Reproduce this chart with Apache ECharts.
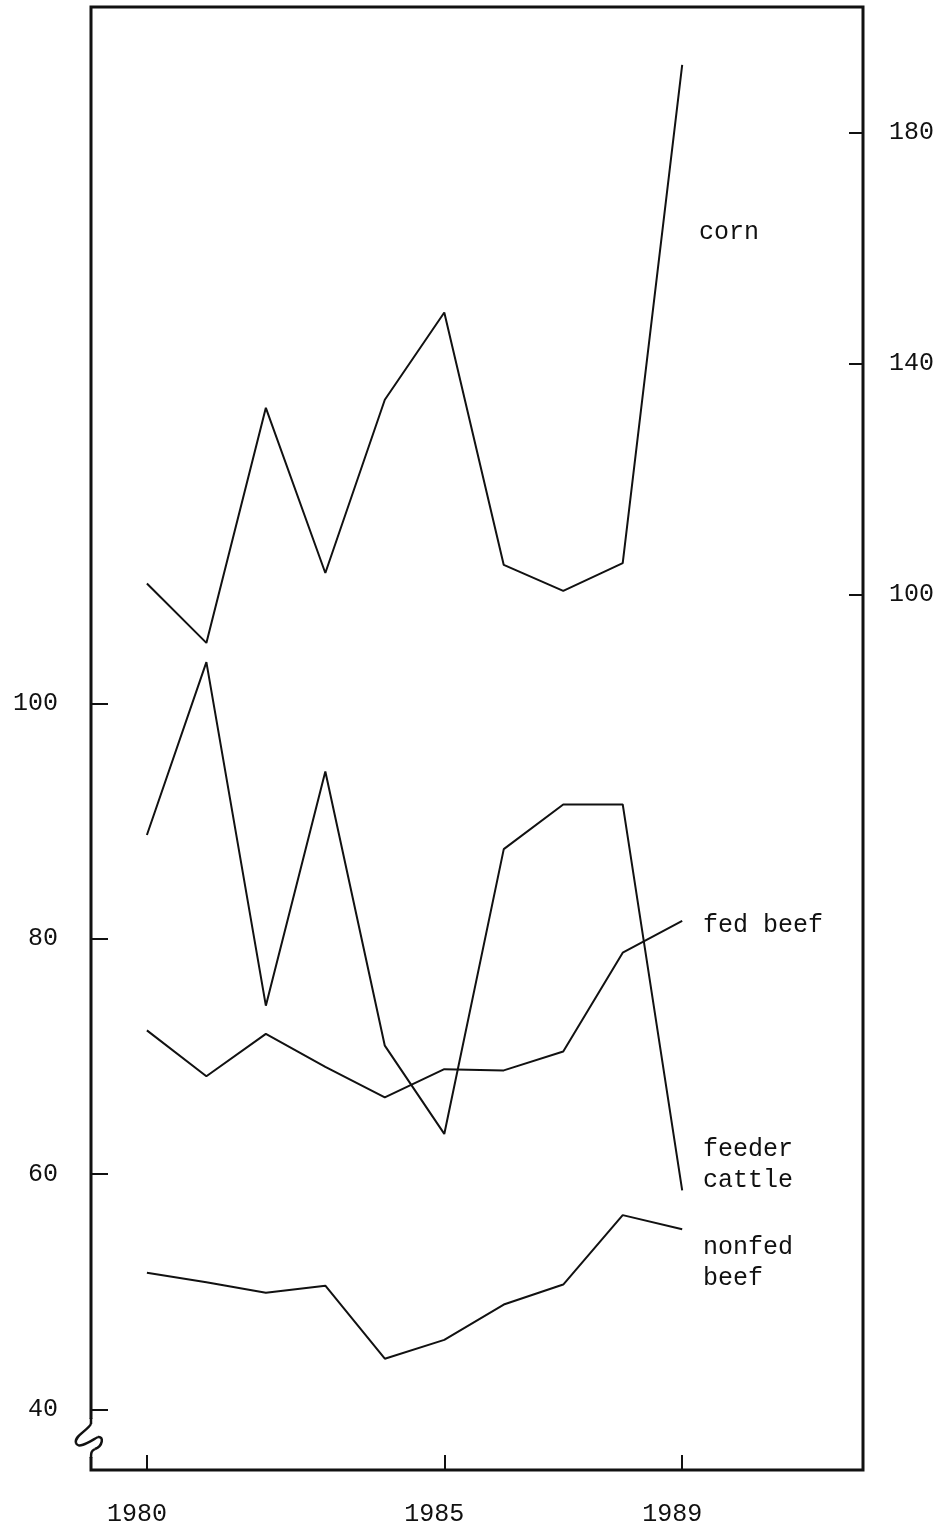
<!DOCTYPE html>
<html>
<head>
<meta charset="utf-8">
<script src="https://cdn.jsdelivr.net/npm/echarts@6/dist/echarts.min.js"></script>
<style>
html,body{margin:0;padding:0;background:#fff;}
#chart{width:948px;height:1534px;}
</style>
</head>
<body>
<div id="chart"></div>
<script>
const years = [1980, 1981, 1982, 1983, 1984, 1985, 1986, 1987, 1988, 1989];
const corn = [101.9, 91.6, 132.3, 103.7, 133.7, 148.8, 105.1, 100.6, 105.4, 191.7];
const feederCattle = [88.8, 103.5, 74.3, 94.2, 70.9, 63.4, 87.6, 91.4, 91.4, 58.6];
const fedBeef = [72.2, 68.3, 71.9, 69.1, 66.5, 68.9, 68.8, 70.4, 78.8, 81.5];
const nonfedBeef = [51.6, 50.8, 49.9, 50.5, 44.3, 45.9, 48.9, 50.6, 56.5, 55.3];
const xTicks = [1980, 1985, 1989];
const leftTicks = [40, 60, 80, 100];
const rightTicks = [100, 140, 180];
const seriesLabels = [
  {text: 'corn', x: 699, y: 232},
  {text: 'fed beef', x: 703, y: 925},
  {text: 'feeder\ncattle', x: 703, y: 1165},
  {text: 'nonfed\nbeef', x: 703, y: 1263}
];

const FONT = 'Liberation Mono';
const chart = echarts.init(document.getElementById('chart'), null, {renderer: 'canvas'});
const pair = (arr) => years.map((y, i) => [y, arr[i]]);
const lineSeries = (name, arr, yIdx) => ({
  name, type: 'line', yAxisIndex: yIdx, data: pair(arr),
  showSymbol: false, symbol: 'none', animation: false, silent: true,
  lineStyle: {color: '#111', width: 2}
});

const breakStyle = {fill: 'none', stroke: '#111', lineWidth: 2.5};
const breakCurves = [
  {x1: 91, y1: 1418, x2: 91, y2: 1424, cpx1: 91, cpy1: 1420, cpx2: 91, cpy2: 1422},
  {x1: 91, y1: 1424, x2: 76, y2: 1443, cpx1: 87, cpy1: 1431, cpx2: 74, cpy2: 1436},
  {x1: 76, y1: 1443, x2: 98, y2: 1437, cpx1: 78, cpy1: 1450, cpx2: 92, cpy2: 1440},
  {x1: 98, y1: 1437, x2: 95, y2: 1449, cpx1: 104, cpy1: 1436, cpx2: 103, cpy2: 1446},
  {x1: 95, y1: 1449, x2: 91, y2: 1458, cpx1: 91, cpy1: 1451, cpx2: 91, cpy2: 1453}
];

const option = {
  animation: false,
  backgroundColor: '#fff',
  grid: {left: 91, right: 85, top: 7, bottom: 64, show: true, borderColor: '#111', borderWidth: 3, backgroundColor: 'transparent'},
  xAxis: {
    type: 'value', min: 1979.06, max: 1992.04,
    axisLine: {show: false, onZero: false},
    splitLine: {show: false},
    axisTick: {show: true, inside: true, length: 15, customValues: xTicks, lineStyle: {color: '#111', width: 2}},
    axisLabel: {customValues: xTicks, fontFamily: FONT, fontSize: 25, color: '#111', margin: 32, padding: [0, 20, 0, 0], formatter: v => String(v)}
  },
  yAxis: [
    {
      type: 'value', position: 'left', min: 34.84, max: 159.17,
      axisLine: {show: false},
      splitLine: {show: false},
      axisTick: {show: true, inside: true, length: 17, customValues: leftTicks, lineStyle: {color: '#111', width: 2}},
      axisLabel: {customValues: leftTicks, fontFamily: FONT, fontSize: 25, color: '#111', margin: 33, padding: [10, 0, 0, 0]}
    },
    {
      type: 'value', position: 'right', min: -51.6, max: 201.7,
      axisLine: {show: false},
      splitLine: {show: false},
      axisTick: {show: true, inside: true, length: 14, customValues: rightTicks, lineStyle: {color: '#111', width: 2}},
      axisLabel: {customValues: rightTicks, fontFamily: FONT, fontSize: 25, color: '#111', margin: 26}
    }
  ],
  series: [
    lineSeries('corn', corn, 1),
    lineSeries('feeder cattle', feederCattle, 0),
    lineSeries('fed beef', fedBeef, 0),
    lineSeries('nonfed beef', nonfedBeef, 0)
  ],
  graphic: [
    {type: 'rect', z: 100, shape: {x: 84, y: 1419, width: 14, height: 38}, style: {fill: '#fff'}}
  ].concat(breakCurves.map(c => ({type: 'bezierCurve', z: 101, shape: c, style: breakStyle})))
   .concat(seriesLabels.map(l => ({
    type: 'text', z: 50, x: l.x, y: l.y,
    style: {text: l.text, font: '25px "' + FONT + '"', fill: '#111', textVerticalAlign: 'middle', lineHeight: 31}
  })))
};
chart.setOption(option);
</script>
</body>
</html>
